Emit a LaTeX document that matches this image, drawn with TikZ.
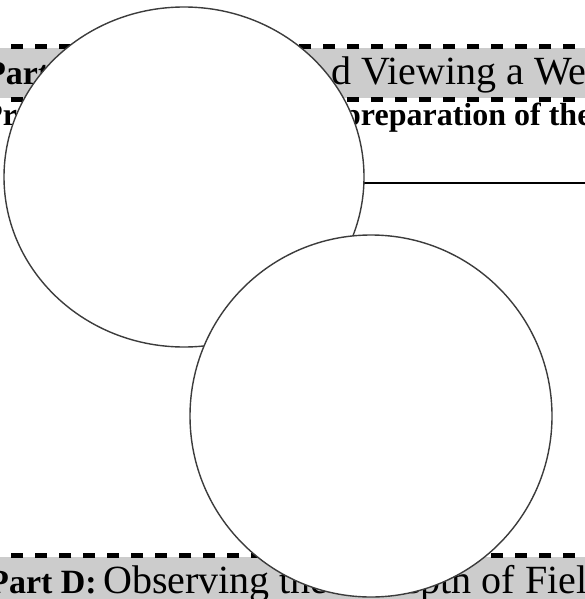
\documentclass[tikz,border=0pt]{standalone}
\usepackage{fontspec}
\setmainfont{Liberation Serif}
\usetikzlibrary{shapes.geometric}
\definecolor{bandgray}{RGB}{204,204,204}
\definecolor{rim}{RGB}{60,60,60}
\tikzset{
  band/.style={fill=bandgray, draw=none},
  dashrule/.style={draw=black, line width=5pt, dash pattern=on 12pt off 12pt},
  titlebold/.style={inner sep=0pt, font=\fontsize{34}{40}\selectfont\bfseries},
  titlereg/.style={inner sep=0pt, font=\fontsize{40}{44}\selectfont},
  subbold/.style={inner sep=0pt, font=\fontsize{32}{36}\selectfont\bfseries},
  blankline/.style={draw=black, line width=1.1pt},
  lens/.style={draw=rim, fill=white, line width=1.4pt, inner sep=0pt},
}
\begin{document}
\begin{tikzpicture}[x=1pt,y=-1pt]
\useasboundingbox (0,0) rectangle (584,599);
% top band
\fill[band] (-5,48) rectangle (600,98);
\coordinate (d1a) at (-13,46.5); \coordinate (d1b) at (610,46.5);
\coordinate (d2a) at (-13,99.5); \coordinate (d2b) at (610,99.5);
\draw[dashrule] (d1a) -- (d1b);
\draw[dashrule] (d2a) -- (d2b);
\node[titlebold, anchor=base west] (p1) at (-15,85) {Part};
\node[titlereg, anchor=base west] (t1) at (331,85) {d Viewing a We};
% second line
\node[subbold, anchor=base west] (s1) at (-17,125) {Pr};
\node[subbold, anchor=base west] (s2) at (343,125) {preparation of the};
% blank line
\coordinate (ul0) at (200,183); \coordinate (ul1) at (600,183);
\draw[blankline] (ul0) -- (ul1);
% bottom band
\fill[band] (-5,557) rectangle (600,605);
\coordinate (d3a) at (-13,555.5); \coordinate (d3b) at (610,555.5);
\draw[dashrule] (d3a) -- (d3b);
\node[titlebold, anchor=base east] (p2) at (97,593) {Part D:};
\node[titlereg, anchor=base west] (b1) at (103,593) {Observing the};
\node[titlereg, anchor=base west] (b2) at (374,593) {Depth of Field};
% circles
\node[lens, ellipse, minimum width=360pt, minimum height=340pt] (topc) at (184,177) {};
\node[lens, circle, minimum size=362pt] (botc) at (371,416) {};
\end{tikzpicture}
\end{document}
